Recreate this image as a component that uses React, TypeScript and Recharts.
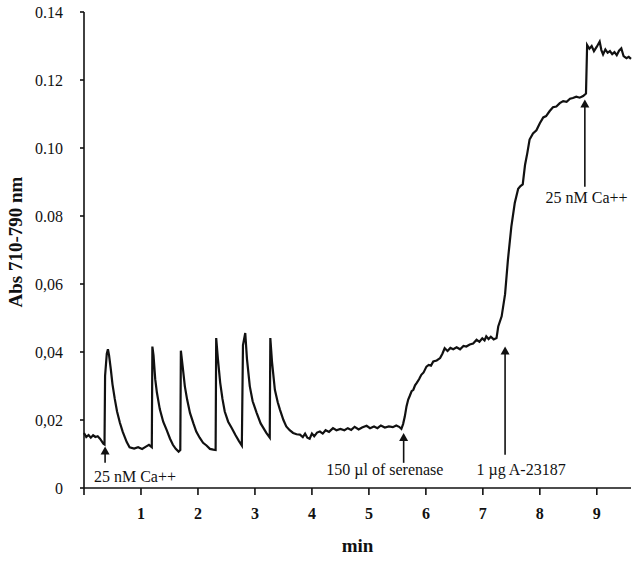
import React from "react";
import {
  LineChart,
  Line,
  XAxis,
  YAxis,
  ReferenceLine,
  ReferenceDot,
} from "recharts";

// time in minutes
const minutes = [
  0, 0.04, 0.08, 0.12, 0.16, 0.2, 0.24, 0.28, 0.31, 0.34, 0.36,
  0.37, 0.4, 0.42, 0.44, 0.47, 0.5, 0.54, 0.58, 0.63, 0.68, 0.75, 0.8, 0.88, 0.95, 1.02, 1.08, 1.14, 1.19,
  1.2, 1.22, 1.25, 1.28, 1.33, 1.39, 1.45, 1.51, 1.56, 1.61, 1.66, 1.69,
  1.7, 1.73, 1.77, 1.81, 1.86, 1.92, 1.97, 2.03, 2.09, 2.15, 2.21, 2.27, 2.31,
  2.32, 2.35, 2.39, 2.43, 2.47, 2.53, 2.59, 2.66, 2.72, 2.77,
  2.79, 2.83, 2.86, 2.91, 2.96, 3.03, 3.1, 3.2, 3.26,
  3.27, 3.3, 3.35, 3.4, 3.44, 3.5, 3.55, 3.61, 3.67, 3.73, 3.79,
  3.84, 3.88, 3.92, 3.96, 4.0, 4.04, 4.09, 4.14, 4.19, 4.24, 4.3, 4.37, 4.43, 4.5, 4.57, 4.63, 4.69,
  4.75, 4.82, 4.88, 4.96, 5.02, 5.09, 5.15, 5.21, 5.28, 5.35, 5.42, 5.48, 5.53, 5.57,
  5.6, 5.63, 5.66, 5.69, 5.72, 5.75, 5.78, 5.81, 5.84, 5.88, 5.92, 5.96, 6.01, 6.05, 6.09, 6.13,
  6.19, 6.25, 6.29, 6.33, 6.38, 6.43, 6.48, 6.54, 6.6, 6.66, 6.71, 6.77, 6.83, 6.89, 6.94, 6.99,
  7.03, 7.06, 7.1, 7.14, 7.19, 7.24, 7.27, 7.33, 7.39, 7.44, 7.5, 7.56, 7.62, 7.66, 7.7, 7.74,
  7.78, 7.82, 7.88, 7.94, 8.0, 8.06, 8.11, 8.17, 8.23, 8.29, 8.35, 8.41, 8.47, 8.53, 8.58, 8.64,
  8.7, 8.76, 8.81, 8.83, 8.87, 8.91, 8.95, 9.0, 9.05, 9.08, 9.11, 9.15, 9.19, 9.23, 9.27, 9.31,
  9.35, 9.39, 9.43, 9.47, 9.52, 9.56, 9.6,
];

// absorbance 710-790 nm
const absorbance = [
  0.0162, 0.015, 0.0156, 0.0148, 0.0155, 0.015, 0.0152, 0.0145, 0.0138, 0.013, 0.0128,
  0.033, 0.0395, 0.0408, 0.039, 0.035, 0.0305, 0.0262, 0.0225, 0.0192, 0.0165, 0.0135, 0.012, 0.0116, 0.012, 0.0115, 0.0121, 0.0127, 0.012,
  0.0416, 0.039, 0.032, 0.028, 0.0232, 0.0195, 0.0171, 0.0145, 0.0127, 0.0115, 0.0107, 0.0112,
  0.0404, 0.036, 0.0299, 0.026, 0.0221, 0.019, 0.0166, 0.0148, 0.0133, 0.0125, 0.0115, 0.0113, 0.0112,
  0.0441, 0.038, 0.031, 0.0262, 0.0225, 0.0195, 0.0177, 0.0155, 0.0138, 0.0125,
  0.042, 0.0456, 0.038, 0.0299, 0.0255, 0.0221, 0.019, 0.0162, 0.0148,
  0.0441, 0.037, 0.0289, 0.0252, 0.023, 0.02, 0.0181, 0.017, 0.0162, 0.0158, 0.0157,
  0.015, 0.016, 0.0148, 0.0145, 0.016, 0.0152, 0.0163, 0.0166, 0.016, 0.017, 0.0165, 0.0176, 0.017, 0.0174, 0.017, 0.0176, 0.0171,
  0.018, 0.0172, 0.0178, 0.0183, 0.0176, 0.0181, 0.0176, 0.0184, 0.0178, 0.0181, 0.0179, 0.0184, 0.018, 0.0174,
  0.0188, 0.021, 0.024, 0.026, 0.0272, 0.0285, 0.0289, 0.0302, 0.0309, 0.032, 0.0333, 0.034, 0.0357, 0.0362, 0.036, 0.0372,
  0.0375, 0.0382, 0.0395, 0.0411, 0.0403, 0.0412, 0.0408, 0.0414, 0.0408, 0.0418, 0.0416, 0.0422, 0.0425, 0.0436, 0.043, 0.044,
  0.0434, 0.0446, 0.0438, 0.0445, 0.0437, 0.0441, 0.0475, 0.0505, 0.057, 0.0671, 0.0769, 0.0838, 0.088, 0.0888, 0.0893, 0.095,
  0.0985, 0.1025, 0.1043, 0.1052, 0.1073, 0.109, 0.1094, 0.1108, 0.112, 0.1122, 0.1132, 0.1138, 0.1136, 0.1145, 0.1147, 0.1151,
  0.1148, 0.1153, 0.116, 0.1303, 0.1292, 0.13, 0.1285, 0.1298, 0.1313, 0.1288, 0.1275, 0.129, 0.128, 0.1285, 0.1276, 0.1282,
  0.1273, 0.1286, 0.1293, 0.127, 0.1264, 0.1268, 0.1262,
];

const xTicks = [0, 1, 2, 3, 4, 5, 6, 7, 8, 9];
const yTicks = [0, 0.02, 0.04, 0.06, 0.08, 0.1, 0.12, 0.14];
const yTickLabels = ["0", "0,02", "0,04", "0,06", "0.08", "0.10", "0.12", "0.14"];

// arrows: time, arrow tip, arrow tail, label, label position
const notes = [
  { t: 0.37, tip: 0.0122, tail: 0.0074, text: "25 nM Ca++", lt: 0.895, lv: 0.0033 },
  { t: 5.61, tip: 0.0162, tail: 0.0074, text: "150 µl of serenase", lt: 5.28, lv: 0.0054 },
  { t: 7.39, tip: 0.0416, tail: 0.0098, text: "1 µg A-23187", lt: 7.67, lv: 0.0054 },
  { t: 8.79, tip: 0.1143, tail: 0.0886, text: "25 nM Ca++", lt: 8.82, lv: 0.0853 },
];

const data = minutes.map((m, i) => ({ min: m, abs: absorbance[i] }));

const FONT = '"Liberation Serif", "Times New Roman", serif';

function Arrow(props: any) {
  const { x1, y1, x2, y2 } = props;
  const tipY = Math.min(y1, y2);
  const tailY = Math.max(y1, y2);
  const x = x1;
  return (
    <g>
      <line x1={x} x2={x} y1={tipY + 6} y2={tailY} stroke="#111" strokeWidth={1.6} />
      <polygon points={`${x},${tipY} ${x - 4.5},${tipY + 8} ${x + 4.5},${tipY + 8}`} fill="#111" />
    </g>
  );
}

export default function App() {
  return (
    <div style={{ position: "absolute", left: 0, top: 0, background: "#fff" }}>
      <LineChart
        width={640}
        height={563}
        data={data}
        margin={{ top: 12, right: 9, left: 24, bottom: 9 }}
      >
        <XAxis
          dataKey="min"
          type="number"
          domain={[0, 9.6]}
          ticks={xTicks}
          tickFormatter={(v) => (v === 0 ? "" : String(v))}
          height={66}
          stroke="#111"
          strokeWidth={1.6}
          tickSize={7}
          tickMargin={13}
          tick={{ fill: "#111", fontFamily: FONT, fontSize: 16, fontWeight: "bold" }}
          label={{
            value: "min",
            position: "insideBottom",
            offset: 2,
            fill: "#111",
            fontFamily: FONT,
            fontSize: 19,
            fontWeight: "bold",
          }}
        />
        <YAxis
          type="number"
          domain={[0, 0.14]}
          ticks={yTicks}
          tickFormatter={(v) => yTickLabels[yTicks.indexOf(v)] ?? String(v)}
          width={60}
          stroke="#111"
          strokeWidth={1.6}
          tickSize={4}
          tickMargin={17}
          tick={{ fill: "#111", fontFamily: FONT, fontSize: 16 }}
          label={{
            content: (p: any) => {
              const vb = p.viewBox || { x: 24, y: 12, height: 476 };
              const cx = 15;
              const cy = vb.y + vb.height / 2 - 8;
              return (
                <text
                  x={cx}
                  y={cy}
                  transform={`rotate(-90, ${cx}, ${cy})`}
                  textAnchor="middle"
                  dominantBaseline="central"
                  fill="#111"
                  fontFamily={FONT}
                  fontSize={19}
                  fontWeight="bold"
                >
                  Abs 710-790 nm
                </text>
              );
            },
          }}
        />
        <Line
          dataKey="abs"
          type="linear"
          stroke="#111"
          strokeWidth={2.2}
          dot={false}
          isAnimationActive={false}
        />
        {notes.map((n, i) => (
          <ReferenceLine
            key={"a" + i}
            segment={[
              { x: n.t, y: n.tail },
              { x: n.t, y: n.tip },
            ]}
            shape={(p: any) => <Arrow {...p} />}
          />
        ))}
        {notes.map((n, i) => (
          <ReferenceDot
            key={"l" + i}
            x={n.lt}
            y={n.lv}
            r={0}
            shape={(p: any) => (
              <text
                x={p.cx}
                y={p.cy}
                textAnchor="middle"
                dominantBaseline="central"
                fill="#111"
                fontFamily={FONT}
                fontSize={16}
              >
                {n.text}
              </text>
            )}
          />
        ))}
      </LineChart>
    </div>
  );
}
